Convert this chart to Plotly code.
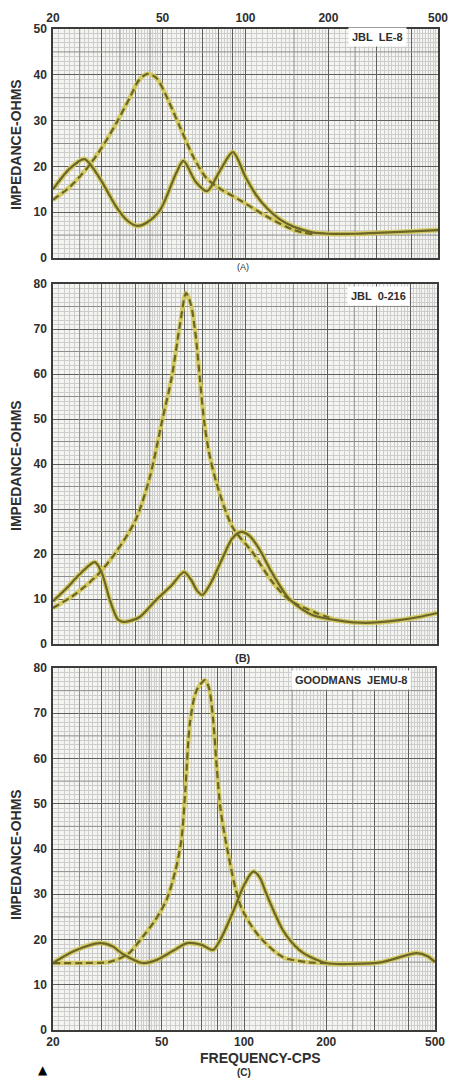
import plotly.graph_objects as go

# ---------------- data (frequency in cps, impedance in ohms) ----------------
a_solid_f = [20, 23, 26, 29.5, 34, 37, 40.5, 44, 49, 56, 59.5, 66, 72.5, 81, 90, 100, 110, 120, 135, 150, 175, 200, 250, 300, 400, 500]
a_solid_z = [15, 19.5, 21.6, 17.5, 11.1, 8.3, 7, 7.8, 10.5, 18.5, 21.2, 16.6, 14.6, 19.2, 23.1, 17.7, 13.5, 10.8, 8.2, 6.8, 5.6, 5.3, 5.3, 5.5, 5.8, 6.1]
a_dash_f = [20, 23, 26.5, 30, 34, 38, 41, 44, 47.5, 51, 58, 65, 72, 80, 95, 120, 150, 175]
a_dash_z = [12.7, 15.5, 19.5, 24, 29.5, 35, 38.8, 40.2, 39.3, 36, 28.4, 21.8, 17.5, 15.3, 12.7, 9, 6.1, 5.2]

b_solid_f = [20, 22.5, 25, 28.4, 30.1, 32.2, 34.4, 36, 38.5, 41.4, 47.5, 54, 60, 64, 67, 70, 75, 82, 90, 97, 104, 113, 125, 145, 175, 220, 275, 365, 430, 500]
b_solid_z = [9.5, 12.5, 15.5, 18.2, 15.8, 9.8, 5.5, 4.9, 5.2, 6, 9.8, 13, 16, 14, 11.8, 10.9, 13.5, 18.5, 23.5, 24.9, 24, 21, 16, 10, 6.5, 5.2, 4.7, 5.3, 6, 6.9]
b_dash_f = [20, 24, 29, 34, 40, 45, 50, 54, 58, 61, 63.5, 66, 68.5, 71, 74, 79, 90, 107, 125, 145, 182, 210]
b_dash_z = [8, 11, 15.3, 20.5, 27.6, 37, 49.8, 59, 71, 78, 75.5, 69, 59, 49.5, 42.5, 35.5, 26, 20.2, 14, 9.8, 6.9, 5.5]

c_solid_f = [20, 24, 29.7, 33, 36, 42.6, 48, 55, 62, 70, 77, 82, 91, 100, 108, 114, 120, 128, 139, 150, 165, 200, 250, 320, 372, 428, 470, 500]
c_solid_z = [14.8, 17.5, 19.2, 18.5, 16.8, 14.8, 15.5, 17.5, 19.2, 18.8, 17.7, 20, 26, 32, 35, 33.8, 30.5, 26.5, 22, 19.3, 17, 14.8, 14.6, 15, 16.1, 17, 16.3, 15]
c_dash_f = [20, 26, 32, 35, 38, 42.6, 47, 52, 56, 59, 61, 63.4, 67, 72, 74.5, 77, 79.5, 82, 86.5, 97.5, 114, 139, 170, 200]
c_dash_z = [14.8, 14.8, 15, 15.8, 17, 20.6, 24, 28.7, 35, 42, 53, 67.8, 75, 77.3, 75.5, 69, 58, 49, 40.5, 27.2, 20.6, 16.1, 15, 14.8]

x_major = [20, 30, 40, 50, 60, 70, 80, 90, 100, 200, 300, 400, 500]
x_labels = ["20", "", "", "50", "", "", "", "", "100", "200", "", "", "500"]
x_medium = [25, 35, 45, 150, 250]
x_minor = ([v for v in range(21, 50)] + list(range(52, 100, 2)) +
           list(range(105, 200, 5)) + list(range(210, 500, 10)))
x_minor = [v for v in x_minor if v not in x_major and v not in x_medium]

panel_titles = ["JBL  LE-8", "JBL  0-216", "GOODMANS  JEMU-8"]
y_max = [50, 80, 80]

# ---------------- layout geometry (pixels) ----------------
W, H = 450, 1078
geom = [  # left, right, top, bottom
    (53, 438, 29, 258),
    (53, 437, 284, 644),
    (53, 435, 668, 1030),
]
title_centers = [145, 466, 855]
label_pos = [(377, 37), (378, 296), (351, 680)]

FONT = "Liberation Sans"
TXT = "#2e2e2e"
YEL = "#d3c95a"
OLV = "#6b6628"

fig = go.Figure()
curves = [(a_solid_f, a_solid_z, a_dash_f, a_dash_z),
          (b_solid_f, b_solid_z, b_dash_f, b_dash_z),
          (c_solid_f, c_solid_z, c_dash_f, c_dash_z)]

layout = dict(width=W, height=H, margin=dict(l=0, r=0, t=0, b=0, pad=0, autoexpand=False),
              paper_bgcolor="white", plot_bgcolor="#f4f4f1", showlegend=False)


def ann(text, x, y, size, bold=True, **kw):
    d = dict(text=text, x=x / W, y=1 - y / H, xref="paper", yref="paper", showarrow=False,
             xanchor="center", yanchor="middle",
             font=dict(family=kw.pop("family", FONT), size=size, color=kw.pop("color", TXT),
                       weight="bold" if bold else "normal"))
    d.update(kw)
    return d


annotations = []
for i, ((l, r, t, b), ymax) in enumerate(zip(geom, y_max)):
    n = "" if i == 0 else str(i + 1)
    xa, ya = "x" + n, "y" + n
    hx, hy = [], []
    for v in range(5, ymax, 10):
        hx += [20, 500, None]
        hy += [v, v, None]
    for v in x_medium:
        hx += [v, v, None]
        hy += [0, ymax, None]
    fig.add_trace(go.Scatter(x=hx, y=hy, mode="lines", xaxis=xa, yaxis=ya,
                             line=dict(color="#8c8c8c", width=1), hoverinfo="skip"))
    sf, sz, df, dz = curves[i]
    fig.add_trace(go.Scatter(x=df, y=dz, mode="lines", xaxis=xa, yaxis=ya,
                             line=dict(color=YEL, width=4.5, shape="spline", smoothing=0.8),
                             opacity=0.9, hoverinfo="skip"))
    fig.add_trace(go.Scatter(x=sf, y=sz, mode="lines", xaxis=xa, yaxis=ya,
                             line=dict(color=YEL, width=5, shape="spline", smoothing=0.8),
                             opacity=0.9, hoverinfo="skip"))
    fig.add_trace(go.Scatter(x=df, y=dz, mode="lines", xaxis=xa, yaxis=ya,
                             line=dict(color=OLV, width=2.2, dash="7px,4px", shape="spline", smoothing=0.8),
                             hoverinfo="skip"))
    fig.add_trace(go.Scatter(x=sf, y=sz, mode="lines", xaxis=xa, yaxis=ya,
                             line=dict(color=OLV, width=2.2, shape="spline", smoothing=0.8),
                             hoverinfo="skip"))

    xside = "top" if i == 0 else "bottom"
    show_x = i != 1
    layout["xaxis" + n] = dict(
        type="log", range=[1.30103, 2.69897], domain=[l / W, r / W],
        anchor=ya, side=xside, automargin=False,
        tickmode="array", tickvals=x_major, ticktext=x_labels if show_x else [""] * len(x_major),
        showticklabels=show_x, ticks="", ticklabelstandoff=0,
        tickfont=dict(family=FONT, size=12, color=TXT, weight="bold"),
        showgrid=True, gridcolor="#5e5e5e", gridwidth=1,
        minor=dict(tickmode="array", tickvals=x_minor, showgrid=True,
                   gridcolor="#cdcdcd", gridwidth=0.7, ticks=""),
        showline=True, linecolor="#3c3c3c", linewidth=1.5, mirror=True,
        zeroline=False, fixedrange=True)
    layout["yaxis" + n] = dict(
        range=[0, ymax], domain=[1 - b / H, 1 - t / H], anchor=xa, automargin=False,
        tickmode="array", tickvals=list(range(0, ymax + 1, 10)), ticks="",
        tickfont=dict(family=FONT, size=12, color=TXT, weight="bold"),
        ticklabelstandoff=2,
        showgrid=True, gridcolor="#5e5e5e", gridwidth=1,
        minor=dict(tickmode="array", tickvals=[v for v in range(1, ymax) if v % 5],
                   showgrid=True, gridcolor="#cdcdcd", gridwidth=0.7, ticks=""),
        showline=True, linecolor="#3c3c3c", linewidth=1.5, mirror=True,
        zeroline=False, fixedrange=True)
    annotations.append(ann("IMPEDANCE-OHMS", 16, title_centers[i], 14, textangle=-90))
    lx, ly = label_pos[i]
    annotations.append(ann(panel_titles[i], lx, ly, 11, bgcolor="white", borderpad=3))

annotations.append(ann("(A)", 243, 267, 9, bold=False))
annotations.append(ann("(B)", 243, 658, 11))
annotations.append(ann("FREQUENCY-CPS", 260, 1058, 14))
annotations.append(ann("(C)", 244, 1072, 10))
annotations.append(ann("▲", 43, 1070, 12, bold=False, family="DejaVu Sans", color="black"))
layout["annotations"] = annotations
fig.update_layout(**layout)
fig.write_html("out.html", config={"displayModeBar": False},
               post_script="document.body.style.margin='0';document.body.style.overflow='hidden';")
